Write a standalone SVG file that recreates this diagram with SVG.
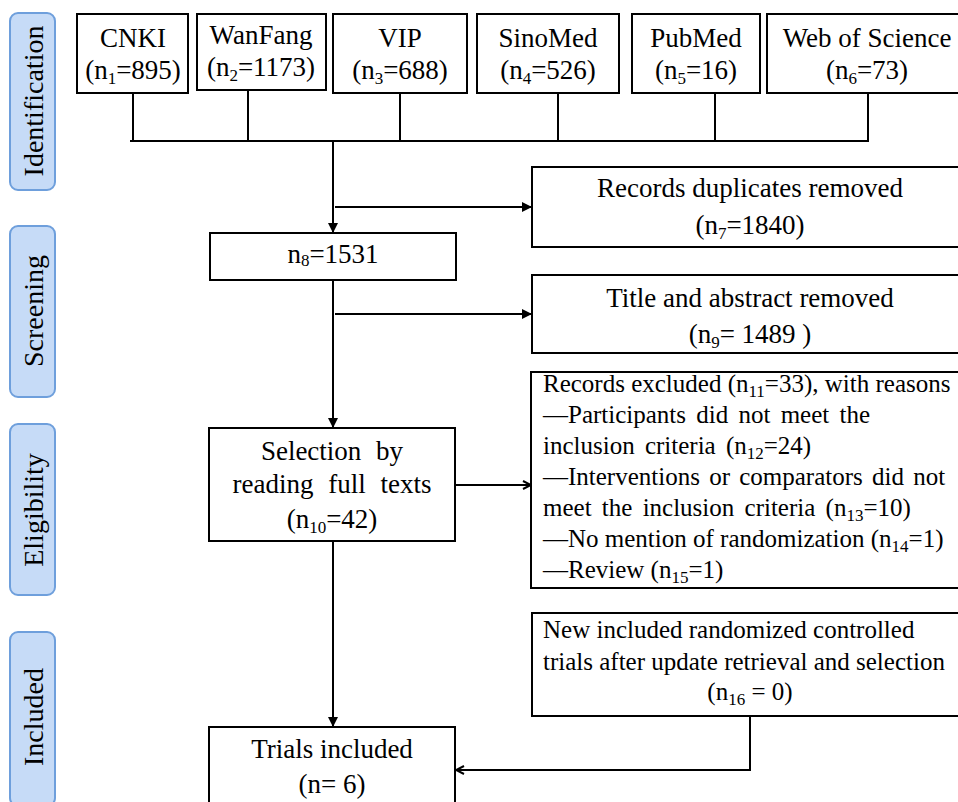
<svg xmlns="http://www.w3.org/2000/svg" width="958" height="802" viewBox="0 0 958 802" font-family="Liberation Serif, Times New Roman, serif">
<style>
.bg{fill:#ffffff}
.box{fill:#ffffff;stroke:#000;stroke-width:2}
.stage{fill:#c6dbf7;stroke:#6e9fdc;stroke-width:2}
.t{font-size:27px;text-anchor:middle}
.tl{font-size:25px}
.st{font-size:28px;text-anchor:middle}
.sub{font-size:17px}
.ln{fill:none;stroke:#000;stroke-width:2}
</style>
<defs>
<marker id="tri" viewBox="0 0 10 10" refX="10" refY="5" markerWidth="5" markerHeight="5" orient="auto" markerUnits="strokeWidth">
<path d="M0,0 L10,5 L0,10 z" fill="#000"/>
</marker>
<marker id="chev" viewBox="0 0 10 10" refX="9" refY="5" markerWidth="5" markerHeight="5" orient="auto" markerUnits="strokeWidth">
<path d="M1,1 L9,5 L1,9" fill="none" stroke="#000" stroke-width="2"/>
</marker>
</defs>
<rect class="bg" x="0" y="0" width="958" height="802"/>

<g id="stage-identification">
<rect class="stage" x="10" y="13" width="45" height="177" rx="8"/>
<text class="st" font-family="Liberation Serif" transform="translate(43,101) rotate(-90)">Identification</text>
</g>
<g id="stage-screening">
<rect class="stage" x="10" y="226" width="45" height="171" rx="8"/>
<text class="st" font-family="Liberation Serif" transform="translate(43,311) rotate(-90)">Screening</text>
</g>
<g id="stage-eligibility">
<rect class="stage" x="10" y="424" width="45" height="171" rx="8"/>
<text class="st" font-family="Liberation Serif" transform="translate(43,510) rotate(-90)">Eligibility</text>
</g>
<g id="stage-included">
<rect class="stage" x="10" y="632" width="45" height="174" rx="8"/>
<text class="st" font-family="Liberation Serif" transform="translate(43,717) rotate(-90)">Included</text>
</g>

<g id="connectors">
<path class="ln" d="M133,93 V141 M248,90 V141 M400,93 V141 M558,93 V141 M715,93 V141 M868,93 V141 M130,141 H869"/>
<path class="ln" d="M333,141 V233" marker-end="url(#tri)"/>
<path class="ln" d="M335,207 H532" marker-end="url(#tri)"/>
<path class="ln" d="M333,280 V428" marker-end="url(#tri)"/>
<path class="ln" d="M335,314 H532" marker-end="url(#tri)"/>
<path class="ln" d="M455,485 H531" marker-end="url(#chev)"/>
<path class="ln" d="M333,541 V727" marker-end="url(#tri)"/>
<path class="ln" d="M750,716 V770 H456" marker-end="url(#chev)"/>
</g>

<g id="cnki" font-family="Liberation Serif">
<rect class="box" x="77" y="14" width="111" height="79"/>
<text class="t" x="133" y="47">CNKI</text>
<text class="t" x="133" y="79">(n<tspan class="sub" dy="5">1</tspan><tspan dy="-5">=895)</tspan></text>
</g>
<g id="wanfang" font-family="Liberation Serif">
<rect class="box" x="197" y="14" width="129" height="76"/>
<text class="t" x="261" y="44">WanFang</text>
<text class="t" x="261" y="76">(n<tspan class="sub" dy="5">2</tspan><tspan dy="-5">=1173)</tspan></text>
</g>
<g id="vip" font-family="Liberation Serif">
<rect class="box" x="333" y="14" width="134" height="79"/>
<text class="t" x="400" y="47">VIP</text>
<text class="t" x="400" y="79">(n<tspan class="sub" dy="5">3</tspan><tspan dy="-5">=688)</tspan></text>
</g>
<g id="sinomed" font-family="Liberation Serif">
<rect class="box" x="477" y="14" width="142" height="79"/>
<text class="t" x="548" y="47">SinoMed</text>
<text class="t" x="548" y="79">(n<tspan class="sub" dy="5">4</tspan><tspan dy="-5">=526)</tspan></text>
</g>
<g id="pubmed" font-family="Liberation Serif">
<rect class="box" x="632" y="14" width="128" height="79"/>
<text class="t" x="696" y="47">PubMed</text>
<text class="t" x="696" y="79">(n<tspan class="sub" dy="5">5</tspan><tspan dy="-5">=16)</tspan></text>
</g>
<g id="wos" font-family="Liberation Serif">
<rect class="box" x="767" y="14" width="196" height="79"/>
<text class="t" x="867" y="47">Web of Science</text>
<text class="t" x="867" y="79">(n<tspan class="sub" dy="5">6</tspan><tspan dy="-5">=73)</tspan></text>
</g>

<g id="duplicates" font-family="Liberation Serif">
<rect class="box" x="532" y="167" width="431" height="80"/>
<text class="t" x="750" y="197">Records duplicates removed</text>
<text class="t" x="750" y="234">(n<tspan class="sub" dy="5">7</tspan><tspan dy="-5">=1840)</tspan></text>
</g>
<g id="n8" font-family="Liberation Serif">
<rect class="box" x="210" y="233" width="246" height="47"/>
<text class="t" x="333" y="263">n<tspan class="sub" dy="3">8</tspan><tspan dy="-3">=1531</tspan></text>
</g>
<g id="title-abstract" font-family="Liberation Serif">
<rect class="box" x="532" y="275" width="431" height="78"/>
<text class="t" x="750" y="307">Title and abstract removed</text>
<text class="t" x="750" y="343">(n<tspan class="sub" dy="5">9</tspan><tspan dy="-5">= 1489 )</tspan></text>
</g>
<g id="selection" font-family="Liberation Serif">
<rect class="box" x="209" y="428" width="246" height="113"/>
<text class="t" x="332" y="460" word-spacing="8">Selection by</text>
<text class="t" x="332" y="493" word-spacing="8">reading full texts</text>
<text class="t" x="332" y="528">(n<tspan class="sub" dy="5">10</tspan><tspan dy="-5">=42)</tspan></text>
</g>
<g id="excluded" font-family="Liberation Serif">
<rect class="box" x="531" y="372" width="432" height="216"/>
<text class="tl" x="543" y="392">Records excluded (n<tspan class="sub" dy="5">11</tspan><tspan dy="-5">=33), with reasons</tspan></text>
<text class="tl" x="543" y="423" word-spacing="4">—Participants did not meet the</text>
<text class="tl" x="543" y="454" word-spacing="4">inclusion criteria (n<tspan class="sub" dy="5">12</tspan><tspan dy="-5">=24)</tspan></text>
<text class="tl" x="543" y="485" word-spacing="3">—Interventions or comparators did not</text>
<text class="tl" x="543" y="516" word-spacing="4">meet the inclusion criteria (n<tspan class="sub" dy="5">13</tspan><tspan dy="-5">=10)</tspan></text>
<text class="tl" x="543" y="547">—No mention of randomization (n<tspan class="sub" dy="5">14</tspan><tspan dy="-5">=1)</tspan></text>
<text class="tl" x="543" y="578">—Review (n<tspan class="sub" dy="5">15</tspan><tspan dy="-5">=1)</tspan></text>
</g>
<g id="new-included" font-family="Liberation Serif">
<rect class="box" x="532" y="613" width="431" height="103"/>
<text class="tl" x="543" y="638">New included randomized controlled</text>
<text class="tl" x="543" y="670">trials after update retrieval and selection</text>
<text class="tl" x="750" y="700" text-anchor="middle">(n<tspan class="sub" dy="5">16</tspan><tspan dy="-5"> = 0)</tspan></text>
</g>
<g id="trials" font-family="Liberation Serif">
<rect class="box" x="209" y="727" width="246" height="80"/>
<text class="t" x="332" y="758">Trials included</text>
<text class="t" x="332" y="793">(n= 6)</text>
</g>
</svg>
